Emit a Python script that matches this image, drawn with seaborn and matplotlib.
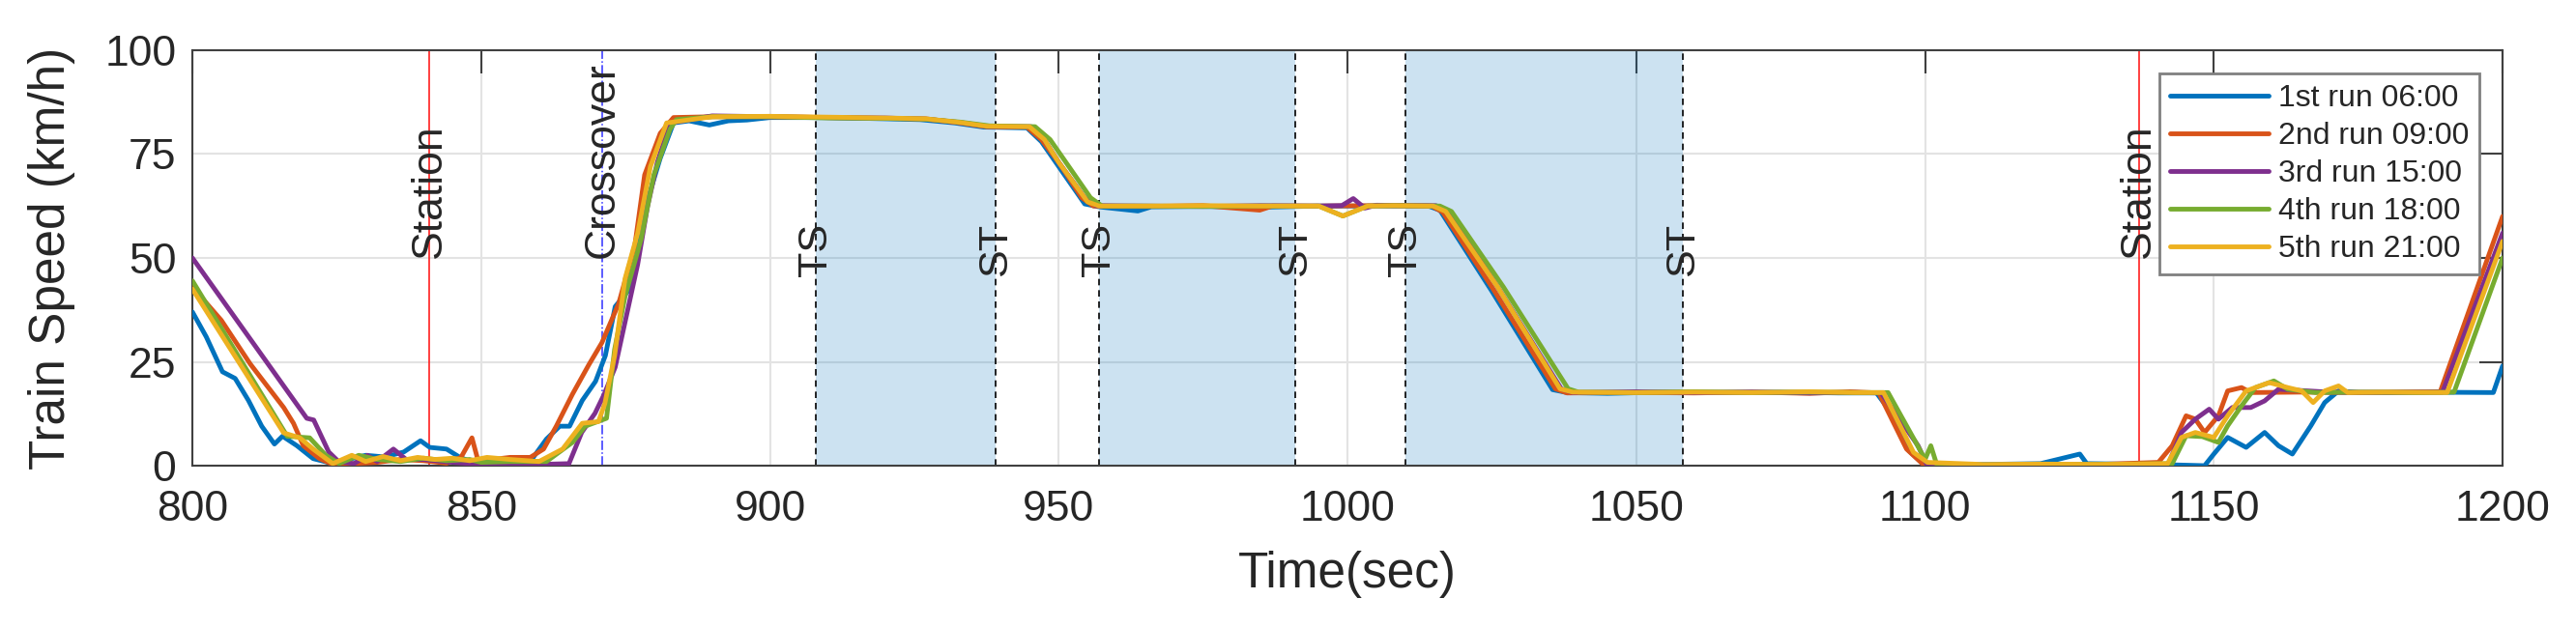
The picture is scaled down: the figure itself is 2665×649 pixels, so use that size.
"""
Train speed profiles of five runs over the 800-1200 s section.
"""
import matplotlib
matplotlib.use("Agg")
import matplotlib.pyplot as plt
import pandas as pd
import seaborn as sns

RUN_LABELS = ["1st run 06:00", "2nd run 09:00", "3rd run 15:00", "4th run 18:00", "5th run 21:00"]
RUN_COLORS = ["#0072BD", "#D95319", "#7E2F8E", "#77AC30", "#EDB120"]

# (time sec, speed km/h)
run1 = [(800, 37), (802.4, 31), (805.2, 22.6), (807.4, 21), (809.7, 15.7), (812, 9.5), (814.2, 5.2),
        (815.6, 7.1), (818.1, 4.8), (820.9, 1.7), (824.3, 0.5), (827, 1.5), (830, 2.5), (833.3, 2.1),
        (836.6, 3.3), (839.5, 6), (841.1, 4.4), (844, 4), (846.2, 2.1), (849, 0.5), (850.1, 0.2),
        (855, 0.5), (858.5, 1), (861.3, 6.4), (863.6, 9.5), (865.3, 9.5), (867.5, 15.7), (869.8, 20.3),
        (871.5, 26.5), (873.2, 38.3), (876, 43), (878.8, 63.9), (881, 74), (883.3, 82.5), (886, 83),
        (889.5, 82), (892.8, 83), (896, 83.2), (900, 83.8), (910, 83.8), (920, 83.5), (926, 83.3),
        (932, 82.5), (937, 81.5), (944.5, 81.3), (947, 78), (950, 72), (954.5, 63), (957, 62.3),
        (963.7, 61.3), (966, 62.3), (975, 62.4), (985, 62.2), (995, 62.5), (1005, 62.5), (1014, 62.5),
        (1016, 61.5), (1025, 42), (1035.5, 18.3), (1038, 17.6), (1045, 17.4), (1055, 17.7), (1065, 17.6),
        (1075, 17.7), (1085, 17.5), (1091.6, 17.5), (1094, 13), (1097.2, 3.6), (1100, 0), (1110, 0.3),
        (1120, 0.5), (1126.8, 2.8), (1128, 0.5), (1140, 0.3), (1148.4, 0), (1150, 2.8), (1152.4, 6.8),
        (1155.6, 4.4), (1158.8, 8), (1161.2, 4.8), (1163.6, 2.8), (1166.8, 9.6), (1169.2, 15.2),
        (1171.6, 18), (1175, 17.6), (1185, 17.7), (1198.4, 17.6), (1200, 24)]

run2 = [(800, 43), (805, 35), (810, 24.5), (815.8, 14), (817.5, 10.2), (819.2, 4.8), (822, 1.7),
        (824.8, 0), (828, 0.5), (832, 0.8), (836, 1.5), (840, 1.2), (844, 0.6), (846.5, 2), (848.4, 6.7),
        (849.5, 1), (852, 1.5), (855, 2), (858.5, 2), (860.8, 4), (863, 9.5), (865.8, 17.2), (868.6, 24.2),
        (870.9, 29.6), (873.8, 39), (876.6, 53), (878.3, 70), (881, 80), (883.3, 83.8), (890, 84),
        (900, 84), (910, 83.8), (920, 83.6), (927, 83.5), (933, 82.5), (937.5, 81.6), (944.5, 81.5),
        (947, 78.5), (950, 73), (954, 64.5), (956, 62.5), (965, 62.4), (975, 62.6), (984.8, 61.5),
        (987, 62.5), (995, 62.5), (1005, 62.6), (1014.6, 62.5), (1016.5, 61), (1025, 43), (1036, 18.5),
        (1038, 17.5), (1050, 17.6), (1060, 17.5), (1070, 17.7), (1080, 17.4), (1087, 17.8), (1092, 17.5),
        (1096.8, 4), (1099.6, 0.4), (1110, 0), (1120, 0.2), (1130, 0.3), (1140.4, 0.8), (1142.8, 4.8),
        (1145.2, 12), (1146.8, 11.2), (1148.4, 8), (1150.8, 12), (1152.4, 18), (1154.8, 18.8),
        (1156.4, 17.6), (1165, 17.7), (1175, 17.6), (1189.2, 17.8), (1200, 60)]

run3 = [(800, 50), (819.8, 11.4), (821, 11), (823.6, 3.3), (825.3, 1), (828, 0.5), (830.3, 2.5),
        (832, 1), (834.8, 4), (837, 1.5), (840, 1.5), (845, 0.8), (850, 0.3), (855, 0.5), (860, 0.3),
        (865.2, 0.5), (867.4, 8), (869.7, 12.6), (871.3, 17.2), (873.2, 23.7), (877.1, 48.5),
        (878.8, 62.4), (880.5, 73), (882.7, 82.5), (890, 84.2), (900, 84), (910, 83.8), (920, 83.7),
        (927, 83.4), (933, 82.6), (937.5, 81.7), (945.2, 81.6), (947.5, 78.5), (950, 73), (954.5, 64.5),
        (956.5, 62.6), (965, 62.5), (975, 62.4), (985, 62.6), (995, 62.5), (999, 62.6), (1001, 64.3),
        (1003, 62), (1005, 62.7), (1015.3, 62.6), (1017.5, 61.2), (1026, 43), (1037, 18.5), (1039, 17.6),
        (1050, 17.8), (1060, 17.6), (1070, 17.7), (1080, 17.5), (1088, 17.6), (1092.4, 17.5),
        (1098.8, 4.8), (1100.4, 0), (1110, 0), (1120, 0.1), (1130, 0), (1142, 0), (1144.4, 8),
        (1146.8, 11.2), (1149.2, 13.6), (1150.8, 11.2), (1153.2, 14), (1156.4, 14), (1158.8, 15.6),
        (1161.2, 18.4), (1170, 17.7), (1180, 17.6), (1189.6, 17.7), (1200, 56)]

run4 = [(800, 44.5), (816.4, 7.1), (820.3, 6.7), (823.1, 2.5), (825.4, 0.5), (828.8, 2.5), (832, 1.5),
        (836, 1), (840, 1.8), (844, 1.2), (848, 1.5), (850, 0.8), (855, 1), (861.3, 1), (865.8, 5.6),
        (868, 9.5), (871.7, 11.4), (873.1, 28), (874.9, 40.7), (877.7, 54.6), (879.9, 70), (882.7, 81),
        (883.8, 83.3), (890, 84), (900, 84), (910, 83.7), (920, 83.6), (927, 83.4), (933, 82.7),
        (938, 81.8), (945.9, 81.6), (948.5, 78.5), (951, 73.5), (955.5, 64.5), (957.5, 62.5), (965, 62.5),
        (975, 62.4), (985, 62.5), (995, 62.5), (999.2, 60.1), (1003.5, 62.5), (1008, 62.6), (1016, 62.5),
        (1018, 61.2), (1027, 43), (1038.2, 18.5), (1040, 17.7), (1050, 17.6), (1060, 17.8), (1070, 17.6),
        (1080, 17.7), (1088, 17.6), (1093.6, 17.6), (1098.4, 5.6), (1100, 1.5), (1101, 4.8), (1102, 0.4),
        (1110, 0), (1120, 0.2), (1130, 0.3), (1142.8, 0.5), (1145.2, 7.2), (1148, 7), (1150.8, 5.6),
        (1152.4, 9.6), (1154.8, 14.4), (1157.2, 18.8), (1160.4, 20.4), (1162.8, 18.4), (1167.6, 17.6),
        (1175, 17.7), (1185, 17.6), (1191.6, 17.7), (1200, 50)]

run5 = [(800, 42.5), (815.8, 7.9), (818.6, 6.7), (820.9, 4), (824.3, 0.5), (827.6, 2.5), (830, 1),
        (833, 2.2), (836, 1.2), (839, 2), (842, 1.5), (845, 1.8), (848, 1.2), (851, 2), (855, 1.5),
        (860, 1), (864.1, 4), (867.5, 10.2), (870.3, 10.6), (871.4, 14.9), (873.1, 26.5), (874.9, 45),
        (877.1, 56), (879.3, 72), (882.1, 82.5), (890, 84), (900, 84.1), (910, 83.9), (920, 83.7),
        (927, 83.5), (933, 82.6), (937.5, 81.7), (944.9, 81.6), (947.5, 78.5), (950, 73), (955, 63.5),
        (957, 62.5), (965, 62.5), (975, 62.6), (985, 62.5), (995, 62.5), (999.2, 60.1), (1003.5, 62.5),
        (1008, 62.6), (1014.8, 62.5), (1017, 61.2), (1026, 43), (1036.8, 18.5), (1039, 17.7), (1050, 17.6),
        (1060, 17.7), (1070, 17.6), (1080, 17.8), (1088, 17.6), (1092.8, 17.6), (1098, 3.2), (1099.6, 1.6),
        (1100.4, 0.8), (1110, 0.3), (1120, 0.4), (1130, 0.3), (1142, 0.5), (1144.4, 6.8), (1146.8, 8),
        (1150, 6.8), (1152.4, 12), (1155.6, 18), (1159.6, 20), (1162.8, 18.8), (1165.2, 18),
        (1167.2, 15.2), (1169.2, 18), (1171.6, 19.2), (1173.2, 17.6), (1180, 17.7), (1190.4, 17.6),
        (1200, 54)]

STATION_T = [841, 1137]
CROSSOVER_T = 871
TS_T = [908, 957, 1010]
ST_T = [939, 991, 1058]

frames = []
for label, pts in zip(RUN_LABELS, [run1, run2, run3, run4, run5]):
    df = pd.DataFrame(pts, columns=["time", "speed"])
    df["run"] = label
    frames.append(df)
data = pd.concat(frames, ignore_index=True)

sns.set_theme(style="whitegrid")
plt.rcParams["font.family"] = ["Liberation Sans", "DejaVu Sans"]

fig = plt.figure(figsize=(26.65, 6.49), dpi=100)
ax = fig.add_axes([0.0747, 0.2573, 0.8968, 0.6626])

# speed-restriction zones (TS -> ST)
for ts, st in zip(TS_T, ST_T):
    ax.axvspan(ts, st, color="#0072BD", alpha=0.2, lw=0, zorder=1)
    for x, lab in [(ts, "TS"), (st, "ST")]:
        ax.axvline(x, color="black", ls=(0, (4, 3)), lw=1.2, zorder=2)
        ax.text(x, 45.5, lab, rotation=90, ha="center", va="bottom", fontsize=31, zorder=3)

for x in STATION_T:
    ax.axvline(x, color="#ff2020", lw=1.2, zorder=2)
    ax.text(x, 50, "Station", rotation=90, ha="center", va="bottom", fontsize=32, zorder=3)

ax.axvline(CROSSOVER_T, color="#3030ff", ls="-.", lw=1.1, zorder=2)
ax.text(CROSSOVER_T, 50, "Crossover", rotation=90, ha="center", va="bottom", fontsize=32, zorder=3)

sns.lineplot(data=data, x="time", y="speed", hue="run", hue_order=RUN_LABELS,
             palette=dict(zip(RUN_LABELS, RUN_COLORS)), estimator=None, sort=False,
             linewidth=3.5, ax=ax, zorder=4)

ax.set_xlim(800, 1200)
ax.set_ylim(0, 100)
ax.set_xticks(range(800, 1201, 50))
ax.set_yticks([0, 25, 50, 75, 100])
ax.grid(True, color="#e3e3e3", lw=1.5)
ax.tick_params(direction="in", length=17, width=1.5, top=True, right=True,
               color="#404040", labelcolor="#262626", labelsize=32, pad=12)
ax.tick_params(axis="x", pad=18)
for sp in ax.spines.values():
    sp.set_color("#404040")
    sp.set_linewidth(1.5)

ax.set_xlabel("Time(sec)", fontsize=37, labelpad=16, color="#262626")
ax.set_ylabel("Train Speed (km/h)", fontsize=37, labelpad=22, color="#262626")

handles, labels = ax.get_legend_handles_labels()
leg = ax.legend(handles, labels, loc="upper right", fontsize=23, handlelength=3.2,
                handletextpad=0.3, borderpad=0.35, labelspacing=0.28, borderaxespad=0.75,
                fancybox=False, framealpha=1, edgecolor="#808080")
leg.get_frame().set_linewidth(2)
for line in leg.get_lines():
    line.set_linewidth(3.5)

fig.savefig("out.png", dpi=100)
